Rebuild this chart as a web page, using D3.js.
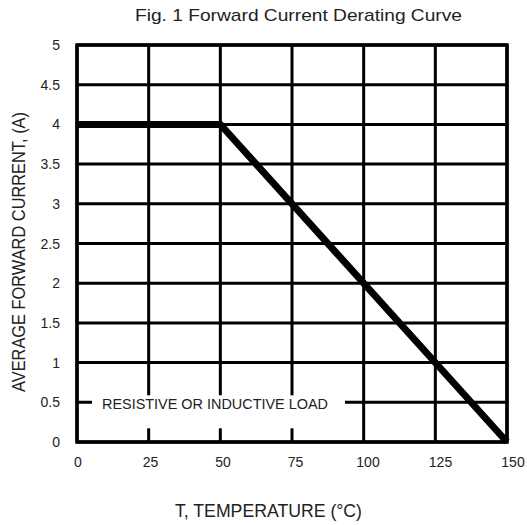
<!DOCTYPE html>
<html><head><meta charset="utf-8">
<script src="https://cdn.jsdelivr.net/npm/d3@7"></script>
<style>body{margin:0;background:#fff}svg{display:block}text{font-family:Arial,"Liberation Sans",sans-serif;fill:#222}</style>
</head><body>
<script>
const title = "Fig. 1 Forward Current Derating Curve";
const xLabel = "T, TEMPERATURE (°C)";
const yLabel = "AVERAGE FORWARD CURRENT, (A)";
const note = "RESISTIVE OR INDUCTIVE LOAD";
const xTicks = [0, 25, 50, 75, 100, 125, 150];
const yTicks = [0, 0.5, 1, 1.5, 2, 2.5, 3, 3.5, 4, 4.5, 5];
const temps = [0, 50, 150];
const current = [4, 4, 0];

const W = 527, H = 525;
const m = {l: 77, r: 20, t: 45, b: 83};
const svg = d3.select("body").append("svg").attr("width", W).attr("height", H);
const x = d3.scaleLinear().domain([0, 150]).range([m.l, W - m.r]);
const y = d3.scaleLinear().domain([0, 5]).range([H - m.b, m.t]);

// grid
svg.append("g").selectAll("line").data(yTicks).join("line")
  .attr("x1", x(0)).attr("x2", x(150)).attr("y1", d => y(d)).attr("y2", d => y(d))
  .attr("stroke", "#000").attr("stroke-width", 3);
svg.append("g").selectAll("line").data(xTicks).join("line")
  .attr("y1", y(0)).attr("y2", y(5)).attr("x1", d => x(d)).attr("x2", d => x(d))
  .attr("stroke", "#000").attr("stroke-width", 3);

// note box
const ny = y(0.5);
svg.append("rect").attr("x", 92).attr("y", ny - 7).attr("width", 345 - 92).attr("height", 33).attr("fill", "#fff");
svg.append("text").attr("x", 102).attr("y", ny + 7).attr("font-size", 15)
  .attr("textLength", 226).attr("lengthAdjust", "spacingAndGlyphs").text(note);

// border
svg.append("rect").attr("x", x(0)).attr("y", y(5)).attr("width", x(150) - x(0)).attr("height", y(0) - y(5))
  .attr("fill", "none").attr("stroke", "#000").attr("stroke-width", 3.5);

// curve
svg.append("path").datum(temps.map((t, i) => [t, current[i]]))
  .attr("d", d3.line().x(d => x(d[0])).y(d => y(d[1])))
  .attr("fill", "none").attr("stroke", "#000").attr("stroke-width", 7).attr("stroke-linejoin", "miter");

// tick labels
svg.append("g").selectAll("text").data(yTicks).join("text")
  .attr("x", 60).attr("y", d => y(d) + 5).attr("text-anchor", "end").attr("font-size", 14).text(d => d);
svg.append("g").selectAll("text").data(xTicks).join("text")
  .attr("x", d => x(d) + 1 + d / 30).attr("y", 467).attr("text-anchor", "middle").attr("font-size", 14).text(d => d);

svg.append("text").attr("x", 298.5).attr("y", 21).attr("text-anchor", "middle").attr("font-size", 17)
  .attr("textLength", 327).attr("lengthAdjust", "spacingAndGlyphs").text(title);
svg.append("text").attr("x", 268.5).attr("y", 517).attr("text-anchor", "middle").attr("font-size", 18)
  .attr("textLength", 187).attr("lengthAdjust", "spacingAndGlyphs").text(xLabel);
svg.append("text").attr("transform", `translate(25,252) rotate(-90)`).attr("text-anchor", "middle").attr("font-size", 18)
  .attr("textLength", 280).attr("lengthAdjust", "spacingAndGlyphs").text(yLabel);
</script>
</body></html>
